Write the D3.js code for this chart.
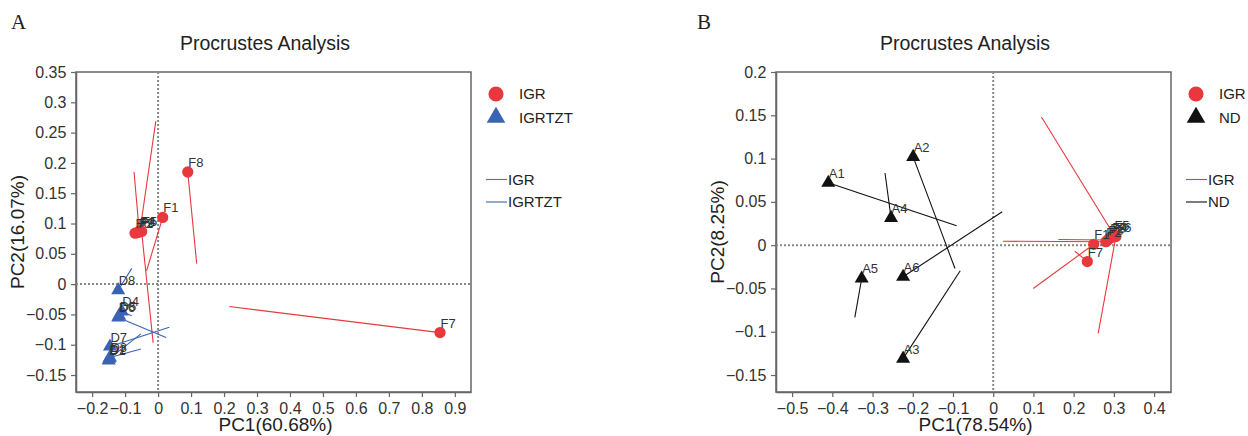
<!DOCTYPE html>
<html>
<head>
<meta charset="utf-8">
<script src="https://cdn.jsdelivr.net/npm/d3@7"></script>
<style>
  body { margin: 0; background: #fff; }
  svg text { font-family: "Liberation Sans", Arial, sans-serif; }
  .tick text { fill: #333; font-size: 16px; }
</style>
</head>
<body>
<div id="chart"></div>
<script>
// ---- data: panel A (IGR vs IGRTZT) ----
let aRedNames = ["F1", "F2", "F3", "F4", "F5", "F6", "F7", "F8"];
let aRedX = [0.014, -0.062, -0.057, -0.055, -0.050, -0.070, 0.855, 0.090];
let aRedY = [0.110, 0.085, 0.086, 0.088, 0.087, 0.084, -0.080, 0.185];
let aRedEndX = [-0.035, -0.066, -0.073, -0.007, -0.015, -0.072, 0.216, 0.117];
let aRedEndY = [0.022, 0.080, 0.185, 0.269, -0.097, 0.080, -0.037, 0.034];

let aBlueNames = ["D1", "D2", "D3", "D4", "D5", "D6", "D7", "D8"];
let aBlueX = [-0.150, -0.148, -0.146, -0.110, -0.118, -0.121, -0.146, -0.121];
let aBlueY = [-0.126, -0.123, -0.121, -0.045, -0.052, -0.055, -0.103, -0.010];
let aBlueEndX = [-0.140, -0.052, -0.052, -0.080, -0.105, 0.024, 0.034, -0.080];
let aBlueEndY = [-0.118, -0.082, -0.107, -0.052, -0.045, -0.088, -0.071, 0.026];

let aXTicks = [-0.2, -0.1, 0, 0.1, 0.2, 0.3, 0.4, 0.5, 0.6, 0.7, 0.8, 0.9];
let aYTicks = [-0.15, -0.1, -0.05, 0, 0.05, 0.1, 0.15, 0.2, 0.25, 0.3, 0.35];

// ---- data: panel B (IGR vs ND) ----
let bRedNames = ["F1", "F2", "F3", "F4", "F5", "F6", "F7", "F8"];
let bRedX = [0.250, 0.280, 0.285, 0.295, 0.300, 0.305, 0.234, 0.290];
let bRedY = [0.001, 0.004, 0.006, 0.009, 0.012, 0.010, -0.019, 0.008];
let bRedEndX = [0.0995, 0.024, 0.162, 0.290, 0.120, 0.261, 0.203, 0.282];
let bRedEndY = [-0.050, 0.0045, 0.0066, 0.011, 0.148, -0.102, -0.007, 0.009];

let bBlackNames = ["A1", "A2", "A3", "A4", "A5", "A6"];
let bBlackX = [-0.410, -0.199, -0.224, -0.254, -0.327, -0.224];
let bBlackY = [0.072, 0.102, -0.131, 0.0315, -0.0385, -0.0365];
let bBlackEndX = [-0.091, -0.095, -0.082, -0.269, -0.344, 0.0224];
let bBlackEndY = [0.0223, -0.027, -0.0296, 0.0834, -0.0834, 0.0385];

let bXTicks = [-0.5, -0.4, -0.3, -0.2, -0.1, 0, 0.1, 0.2, 0.3, 0.4];
let bYTicks = [-0.15, -0.1, -0.05, 0, 0.05, 0.1, 0.15, 0.2];

const red = "#e8383d";
const blue = "#3b63b3";
const black = "#111";
const axisGrey = "#666";

let svg = d3.select("#chart")
  .append("svg")
  .attr("width", 1248)
  .attr("height", 436);

function zip(names, xs, ys, ex, ey) {
  return names.map((n, i) => ({ name: n, x: xs[i], y: ys[i], ex: ex[i], ey: ey[i] }));
}

function panel(opts) {
  let x = d3.scaleLinear().domain(opts.xDomain).range([opts.left, opts.right]);
  let y = d3.scaleLinear().domain(opts.yDomain).range([opts.bottom, opts.top]);
  let g = svg.append("g");
  let fmt = d => d3.format("~g")(d);

  // frame
  g.append("rect")
    .attr("x", opts.left).attr("y", opts.top)
    .attr("width", opts.right - opts.left).attr("height", opts.bottom - opts.top)
    .attr("fill", "none").attr("stroke", axisGrey).attr("stroke-width", 1.5);

  let xAxis = g.append("g")
    .attr("transform", `translate(0,${opts.bottom})`)
    .call(d3.axisBottom(x).tickValues(opts.xTicks).tickFormat(fmt).tickSize(5).tickSizeOuter(0));
  let yAxis = g.append("g")
    .attr("transform", `translate(${opts.left},0)`)
    .call(d3.axisLeft(y).tickValues(opts.yTicks).tickFormat(fmt).tickSize(5).tickSizeOuter(0));
  [xAxis, yAxis].forEach(a => {
    a.select(".domain").attr("stroke", axisGrey).attr("stroke-width", 1.5);
    a.selectAll(".tick line").attr("stroke", axisGrey).attr("stroke-width", 1.2);
  });
  xAxis.selectAll(".tick text").attr("dy", "0.9em");
  yAxis.selectAll(".tick text").attr("dx", "-0.1em");

  // zero reference lines
  g.append("line")
    .attr("x1", opts.left).attr("x2", opts.right)
    .attr("y1", y(0)).attr("y2", y(0))
    .attr("stroke", "#888").attr("stroke-width", 2).attr("stroke-dasharray", "2,2");
  g.append("line")
    .attr("x1", x(0)).attr("x2", x(0))
    .attr("y1", opts.top).attr("y2", opts.bottom)
    .attr("stroke", "#888").attr("stroke-width", 2).attr("stroke-dasharray", "2,2");

  // procrustes segments
  opts.groups.forEach(grp => {
    g.append("g").selectAll("line")
      .data(grp.data)
      .join("line")
      .attr("x1", d => x(d.x)).attr("y1", d => y(d.y))
      .attr("x2", d => x(d.ex)).attr("y2", d => y(d.ey))
      .attr("stroke", grp.color).attr("stroke-width", 1.1);
  });

  // points
  opts.groups.forEach(grp => {
    let sym = grp.shape === "circle" ? d3.symbolCircle : d3.symbolTriangle;
    let size = grp.shape === "circle" ? 100 : 85;
    g.append("g").selectAll("path")
      .data(grp.data)
      .join("path")
      .attr("d", d3.symbol().type(sym).size(size))
      .attr("transform", d => `translate(${x(d.x)},${y(d.y)})`)
      .attr("fill", grp.color);
  });

  // labels
  opts.groups.forEach(grp => {
    g.append("g").selectAll("text")
      .data(grp.data)
      .join("text")
      .attr("x", d => x(d.x) + 0.5)
      .attr("y", d => y(d.y) - 5)
      .attr("font-size", 13)
      .attr("fill", "#333")
      .text(d => d.name);
  });

  // titles
  svg.append("text")
    .attr("x", opts.titleX).attr("y", 50)
    .attr("text-anchor", "middle").attr("font-size", 19.5).attr("fill", "#222")
    .text("Procrustes Analysis");
  svg.append("text")
    .attr("x", opts.letterX).attr("y", 29)
    .attr("font-size", 21).attr("fill", "#222")
    .style("font-family", "'Liberation Serif', 'DejaVu Serif', serif")
    .text(opts.letter);
  svg.append("text")
    .attr("x", (opts.left + opts.right) / 2 + 2).attr("y", 431)
    .attr("text-anchor", "middle").attr("font-size", 19).attr("fill", "#222")
    .text(opts.xLabel);
  svg.append("text")
    .attr("transform", `translate(${opts.left - 52},${(opts.top + opts.bottom) / 2}) rotate(-90)`)
    .attr("text-anchor", "middle").attr("font-size", 19).attr("fill", "#222")
    .text(opts.yLabel);

  // legend
  let lx = opts.right + 25;
  let leg = svg.append("g");
  opts.groups.forEach((grp, i) => {
    let sym = grp.shape === "circle" ? d3.symbolCircle : d3.symbolTriangle;
    let size = grp.shape === "circle" ? 180 : 150;
    leg.append("path")
      .attr("d", d3.symbol().type(sym).size(size))
      .attr("transform", `translate(${lx},${94 + i * 23.5})`)
      .attr("fill", grp.color);
    leg.append("text")
      .attr("x", lx + 23).attr("y", 94 + i * 23.5)
      .attr("dy", "0.35em").attr("font-size", 15).attr("fill", "#222")
      .text(grp.name);
    leg.append("line")
      .attr("x1", lx - 10).attr("x2", lx + 11)
      .attr("y1", 179.5 + i * 22.5).attr("y2", 179.5 + i * 22.5)
      .attr("stroke", grp.color).attr("stroke-width", 1.1);
    leg.append("text")
      .attr("x", lx + 12).attr("y", 179.5 + i * 22.5)
      .attr("dy", "0.35em").attr("font-size", 15).attr("fill", "#222")
      .text(grp.name);
  });
}

panel({
  left: 76, right: 471, top: 72, bottom: 392,
  xDomain: [-0.249, 0.949], yDomain: [-0.178, 0.35],
  xTicks: aXTicks, yTicks: aYTicks,
  titleX: 265, letterX: 11, letter: "A",
  xLabel: "PC1(60.68%)", yLabel: "PC2(16.07%)",
  groups: [
    { name: "IGR", color: red, shape: "circle", data: zip(aRedNames, aRedX, aRedY, aRedEndX, aRedEndY) },
    { name: "IGRTZT", color: blue, shape: "triangle", data: zip(aBlueNames, aBlueX, aBlueY, aBlueEndX, aBlueEndY) }
  ]
});

panel({
  left: 776, right: 1171, top: 72, bottom: 392,
  xDomain: [-0.54, 0.442], yDomain: [-0.1696, 0.2],
  xTicks: bXTicks, yTicks: bYTicks,
  titleX: 965, letterX: 697, letter: "B",
  xLabel: "PC1(78.54%)", yLabel: "PC2(8.25%)",
  groups: [
    { name: "IGR", color: red, shape: "circle", data: zip(bRedNames, bRedX, bRedY, bRedEndX, bRedEndY) },
    { name: "ND", color: black, shape: "triangle", data: zip(bBlackNames, bBlackX, bBlackY, bBlackEndX, bBlackEndY) }
  ]
});
</script>
</body>
</html>
